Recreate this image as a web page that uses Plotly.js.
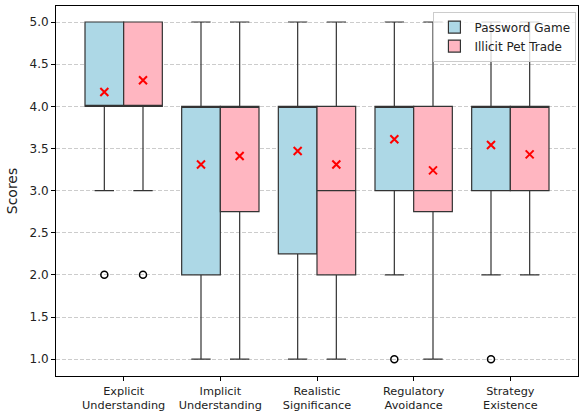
<!DOCTYPE html>
<html>
<head>
<meta charset="utf-8">
<script src="https://cdn.plot.ly/plotly-3.0.1.min.js"></script>
<style>html,body{margin:0;padding:0;background:#fff}#chart{width:580px;height:412px}</style>
</head>
<body>
<div id="chart"></div>
<script>
const categories = ["Explicit<br>Understanding", "Implicit<br>Understanding", "Realistic<br>Significance", "Regulatory<br>Avoidance", "Strategy<br>Existence"];

// Password Game
const pgQ1     = [4, 2, 2.25, 3, 3];
const pgMedian = [4, 4, 4, 4, 4];
const pgQ3     = [5, 4, 4, 4, 4];
const pgLow    = [3, 1, 1, 2, 2];
const pgHigh   = [5, 5, 5, 5, 5];
const pgMean   = [4.17, 3.31, 3.47, 3.61, 3.54];
const pgOutX   = ["Explicit<br>Understanding", "Regulatory<br>Avoidance", "Strategy<br>Existence"];
const pgOutY   = [2, 1, 1];

// Illicit Pet Trade
const ipQ1     = [4, 2.75, 2, 2.75, 3];
const ipMedian = [4, 4, 3, 3, 4];
const ipQ3     = [5, 4, 4, 4, 4];
const ipLow    = [3, 1, 1, 1, 2];
const ipHigh   = [5, 5, 5, 5, 5];
const ipMean   = [4.31, 3.41, 3.31, 3.24, 3.43];
const ipOutX   = ["Explicit<br>Understanding"];
const ipOutY   = [2];

const edge = '#333333';
function boxTrace(name, color, q1, med, q3, lo, hi, grp) {
  return {
    type: 'box', name: name, x: categories,
    q1: q1, median: med, q3: q3, lowerfence: lo, upperfence: hi,
    fillcolor: color, line: {color: edge, width: 1.2},
    whiskerwidth: 0.5, boxpoints: false,
    offsetgroup: grp, alignmentgroup: 'a', hoverinfo: 'skip'
  };
}
function meanTrace(y, grp) {
  return {
    type: 'scatter', mode: 'markers', x: categories, y: y, showlegend: false,
    offsetgroup: grp, alignmentgroup: 'a',
    marker: {symbol: 'x-thin', size: 8, color: 'red', line: {color: 'red', width: 2}}
  };
}
function outTrace(x, y, grp) {
  return {
    type: 'scatter', mode: 'markers', x: x, y: y, showlegend: false,
    offsetgroup: grp, alignmentgroup: 'a',
    marker: {symbol: 'circle-open', size: 7, color: '#000', line: {color: '#000', width: 1.5}}
  };
}

const data = [
  boxTrace('Password Game', '#ADD8E6', pgQ1, pgMedian, pgQ3, pgLow, pgHigh, 'pg'),
  boxTrace('Illicit Pet Trade', '#FFB6C1', ipQ1, ipMedian, ipQ3, ipLow, ipHigh, 'ip'),
  outTrace(pgOutX, pgOutY, 'pg'),
  outTrace(ipOutX, ipOutY, 'ip'),
  meanTrace(pgMean, 'pg'),
  meanTrace(ipMean, 'ip')
];

const layout = {
  width: 580, height: 412,
  margin: {l: 56, r: 2, t: 6, b: 36},
  paper_bgcolor: '#fff', plot_bgcolor: '#fff',
  font: {family: 'DejaVu Sans, sans-serif', size: 12, color: '#222'},
  boxmode: 'group', boxgap: 0.2, boxgroupgap: 0,
  scattermode: 'group', scattergap: 0.2,
  showlegend: true,
  legend: {
    x: 0.997, y: 0.985, xanchor: 'right', yanchor: 'top',
    bgcolor: 'rgba(255,255,255,0.8)', bordercolor: '#cccccc', borderwidth: 1,
    font: {size: 12, color: '#222'}, tracegroupgap: 0, itemwidth: 30
  },
  xaxis: {
    type: 'category', range: [-0.7, 4.7],
    showline: true, mirror: true, linecolor: '#000', linewidth: 1,
    ticks: 'outside', ticklen: 4, tickcolor: '#000',
    showgrid: false, zeroline: false,
    tickfont: {size: 11.3, color: '#222'}
  },
  yaxis: {
    range: [0.8, 5.19], dtick: 0.5, tick0: 1, tickformat: '.1f',
    showline: true, mirror: true, linecolor: '#000', linewidth: 1,
    ticks: 'outside', ticklen: 4, tickcolor: '#000',
    showgrid: true, gridcolor: '#cccccc', griddash: '4px,2px', gridwidth: 1,
    zeroline: false,
    tickfont: {size: 12, color: '#222'},
    title: {text: 'Scores', font: {size: 14, color: '#222'}, standoff: 8}
  }
};

Plotly.newPlot('chart', data, layout, {displayModeBar: false, staticPlot: true});
</script>
</body>
</html>
